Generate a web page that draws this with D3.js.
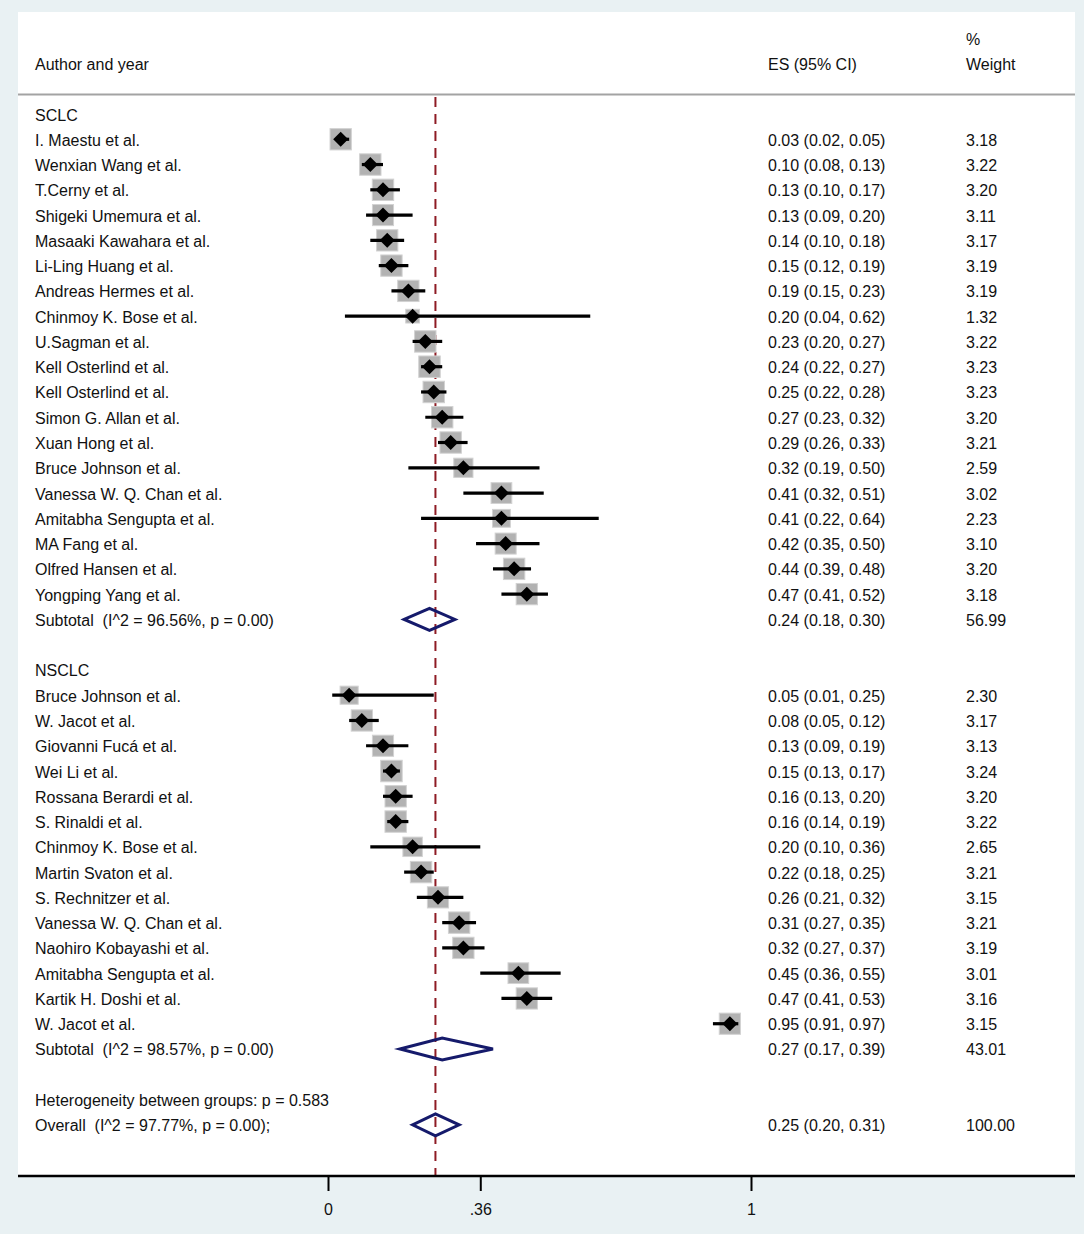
<!DOCTYPE html>
<html>
<head>
<meta charset="utf-8">
<script src="https://cdn.jsdelivr.net/npm/d3@7"></script>
<style>
  body { margin: 0; background: #e9f1f3; }
  text { font-family: Arial, "Liberation Sans", sans-serif; font-size: 16px; fill: #111; white-space: pre; }
</style>
</head>
<body>
<svg width="1084" height="1234"></svg>
<script>
// SCLC studies
const sclcAuthors = ["I. Maestu et al.", "Wenxian Wang et al.", "T.Cerny et al.", "Shigeki Umemura et al.",
  "Masaaki Kawahara et al.", "Li-Ling Huang et al.", "Andreas Hermes et al.", "Chinmoy K. Bose et al.",
  "U.Sagman et al.", "Kell Osterlind et al.", "Kell Osterlind et al.", "Simon G. Allan et al.",
  "Xuan Hong et al.", "Bruce Johnson et al.", "Vanessa W. Q. Chan et al.", "Amitabha Sengupta et al.",
  "MA Fang et al.", "Olfred Hansen et al.", "Yongping Yang et al."];
const sclcES = [0.03, 0.10, 0.13, 0.13, 0.14, 0.15, 0.19, 0.20, 0.23, 0.24, 0.25, 0.27, 0.29, 0.32, 0.41, 0.41, 0.42, 0.44, 0.47];
const sclcLo = [0.02, 0.08, 0.10, 0.09, 0.10, 0.12, 0.15, 0.04, 0.20, 0.22, 0.22, 0.23, 0.26, 0.19, 0.32, 0.22, 0.35, 0.39, 0.41];
const sclcHi = [0.05, 0.13, 0.17, 0.20, 0.18, 0.19, 0.23, 0.62, 0.27, 0.27, 0.28, 0.32, 0.33, 0.50, 0.51, 0.64, 0.50, 0.48, 0.52];
const sclcWeight = [3.18, 3.22, 3.20, 3.11, 3.17, 3.19, 3.19, 1.32, 3.22, 3.23, 3.23, 3.20, 3.21, 2.59, 3.02, 2.23, 3.10, 3.20, 3.18];

// NSCLC studies
const nsclcAuthors = ["Bruce Johnson et al.", "W. Jacot et al.", "Giovanni Fucá et al.", "Wei Li et al.",
  "Rossana Berardi et al.", "S. Rinaldi et al.", "Chinmoy K. Bose et al.", "Martin Svaton et al.",
  "S. Rechnitzer et al.", "Vanessa W. Q. Chan et al.", "Naohiro Kobayashi et al.", "Amitabha Sengupta et al.",
  "Kartik H. Doshi et al.", "W. Jacot et al."];
const nsclcES = [0.05, 0.08, 0.13, 0.15, 0.16, 0.16, 0.20, 0.22, 0.26, 0.31, 0.32, 0.45, 0.47, 0.95];
const nsclcLo = [0.01, 0.05, 0.09, 0.13, 0.13, 0.14, 0.10, 0.18, 0.21, 0.27, 0.27, 0.36, 0.41, 0.91];
const nsclcHi = [0.25, 0.12, 0.19, 0.17, 0.20, 0.19, 0.36, 0.25, 0.32, 0.35, 0.37, 0.55, 0.53, 0.97];
const nsclcWeight = [2.30, 3.17, 3.13, 3.24, 3.20, 3.22, 2.65, 3.21, 3.15, 3.21, 3.19, 3.01, 3.16, 3.15];

// pooled estimates: SCLC subtotal, NSCLC subtotal, overall
const pooledLabels = ["Subtotal  (I^2 = 96.56%, p = 0.00)", "Subtotal  (I^2 = 98.57%, p = 0.00)", "Overall  (I^2 = 97.77%, p = 0.00);"];
const pooledES = [0.24, 0.27, 0.254];
const pooledLo = [0.18, 0.17, 0.20];
const pooledHi = [0.30, 0.39, 0.31];
const pooledWeight = [56.99, 43.01, 100.00];

const groupNames = ["SCLC", "NSCLC"];
const heterogeneityText = "Heterogeneity between groups: p = 0.583";
const tickValues = [0, 0.36, 1];
const tickLabels = ["0", ".36", "1"];

const svg = d3.select("svg");
const panel = { left: 18, top: 12, right: 1075, bottom: 1176 };
const col = { author: 35, es: 768, weight: 966 };
const f2 = d3.format(".2f");

// build the row layout: group header, studies, subtotal, blank
const rows = [];
const addGroup = (g, authors, es, lo, hi, w) => {
  rows.push({ type: "header", label: groupNames[g] });
  authors.forEach((a, i) => rows.push({ type: "study", label: a, es: es[i], lo: lo[i], hi: hi[i], w: w[i] }));
  rows.push({ type: "pooled", label: pooledLabels[g], es: pooledES[g], lo: pooledLo[g], hi: pooledHi[g], w: pooledWeight[g] });
  rows.push({ type: "blank" });
};
addGroup(0, sclcAuthors, sclcES, sclcLo, sclcHi, sclcWeight);
addGroup(1, nsclcAuthors, nsclcES, nsclcLo, nsclcHi, nsclcWeight);
rows.push({ type: "header", label: heterogeneityText });
rows.push({ type: "pooled", label: pooledLabels[2], es: pooledES[2], lo: pooledLo[2], hi: pooledHi[2], w: pooledWeight[2] });
rows.forEach((r, i) => (r.i = i));

const xScale = d3.scaleLinear().domain([0, 1]).range([328, 751]);
const yScale = d3.scaleLinear().domain([0, rows.length - 1]).range([114.5, 114.5 + (rows.length - 1) * 25.27]);
const boxScale = d3.scaleSqrt().domain([0, 3.24]).range([0, 21.5]);

// panel
svg.append("rect").attr("x", panel.left).attr("y", panel.top)
  .attr("width", panel.right - panel.left).attr("height", panel.bottom - panel.top).attr("fill", "#fff");

// header
const header = svg.append("g").attr("class", "header");
header.append("text").attr("x", col.author).attr("y", 70).text("Author and year");
header.append("text").attr("x", col.es).attr("y", 70).text("ES (95% CI)");
header.append("text").attr("x", col.weight).attr("y", 45).text("%");
header.append("text").attr("x", col.weight).attr("y", 70).text("Weight");
svg.append("line").attr("x1", panel.left).attr("x2", panel.right).attr("y1", 94.5).attr("y2", 94.5)
  .attr("stroke", "#a3a3a3").attr("stroke-width", 1.8);

// overall reference line
svg.append("line")
  .attr("x1", xScale(pooledES[2])).attr("x2", xScale(pooledES[2]))
  .attr("y1", 97).attr("y2", panel.bottom)
  .attr("stroke", "#8e1b24").attr("stroke-width", 2).attr("stroke-dasharray", "10,7");

// labels
const labels = svg.append("g").attr("class", "labels");
labels.selectAll(".author")
  .data(rows.filter((r) => r.type !== "blank"))
  .enter().append("text")
  .attr("x", col.author).attr("y", (d) => yScale(d.i) + 6)
  .text((d) => d.label);
const valued = rows.filter((r) => r.type === "study" || r.type === "pooled");
labels.selectAll(".es")
  .data(valued).enter().append("text")
  .attr("x", col.es).attr("y", (d) => yScale(d.i) + 6)
  .text((d) => `${f2(d.es)} (${f2(d.lo)}, ${f2(d.hi)})`);
labels.selectAll(".wt")
  .data(valued).enter().append("text")
  .attr("x", col.weight).attr("y", (d) => yScale(d.i) + 6)
  .text((d) => f2(d.w));

// study marks: weight box, CI line, point marker
const studies = rows.filter((r) => r.type === "study");
const marks = svg.append("g").attr("class", "studies");
marks.selectAll("rect").data(studies).enter().append("rect")
  .attr("x", (d) => xScale(d.es) - boxScale(d.w) / 2)
  .attr("y", (d) => yScale(d.i) - 0.5 - boxScale(d.w) / 2)
  .attr("width", (d) => boxScale(d.w)).attr("height", (d) => boxScale(d.w))
  .attr("fill", "#b2b2b2").attr("stroke", "#d2d2d2").attr("stroke-width", 1);
marks.selectAll("line").data(studies).enter().append("line")
  .attr("x1", (d) => xScale(d.lo)).attr("x2", (d) => xScale(d.hi))
  .attr("y1", (d) => yScale(d.i) - 0.5).attr("y2", (d) => yScale(d.i) - 0.5)
  .attr("stroke", "#000").attr("stroke-width", 3.2);
marks.selectAll("path").data(studies).enter().append("path")
  .attr("transform", (d) => `translate(${xScale(d.es)},${yScale(d.i) - 0.5})`)
  .attr("d", "M-7.5,0L0,-7.5L7.5,0L0,7.5Z").attr("fill", "#000");

// pooled diamonds
svg.append("g").attr("class", "pooled")
  .selectAll("path").data(rows.filter((r) => r.type === "pooled")).enter().append("path")
  .attr("d", (d) => {
    const y = yScale(d.i) - 0.5;
    return `M${xScale(d.lo)},${y}L${xScale(d.es)},${y - 11}L${xScale(d.hi)},${y}L${xScale(d.es)},${y + 11}Z`;
  })
  .attr("fill", "none").attr("stroke", "#151a6b").attr("stroke-width", 3).attr("stroke-linejoin", "miter");

// axis
const xAxis = d3.axisBottom(xScale)
  .tickValues(tickValues)
  .tickFormat((d, i) => tickLabels[i])
  .tickSize(15).tickPadding(13);
const axisGroup = svg.append("g").attr("class", "x-axis")
  .attr("transform", `translate(0,${panel.bottom})`).call(xAxis)
  .attr("font-size", 16).attr("font-family", null);
axisGroup.select(".domain").remove();
axisGroup.selectAll(".tick line").attr("stroke", "#000").attr("stroke-width", 2);
axisGroup.selectAll(".tick text").attr("fill", "#111").style("font-size", "16px");
svg.append("line").attr("x1", panel.left).attr("x2", panel.right)
  .attr("y1", panel.bottom).attr("y2", panel.bottom)
  .attr("stroke", "#000").attr("stroke-width", 2.5);
</script>
</body>
</html>
